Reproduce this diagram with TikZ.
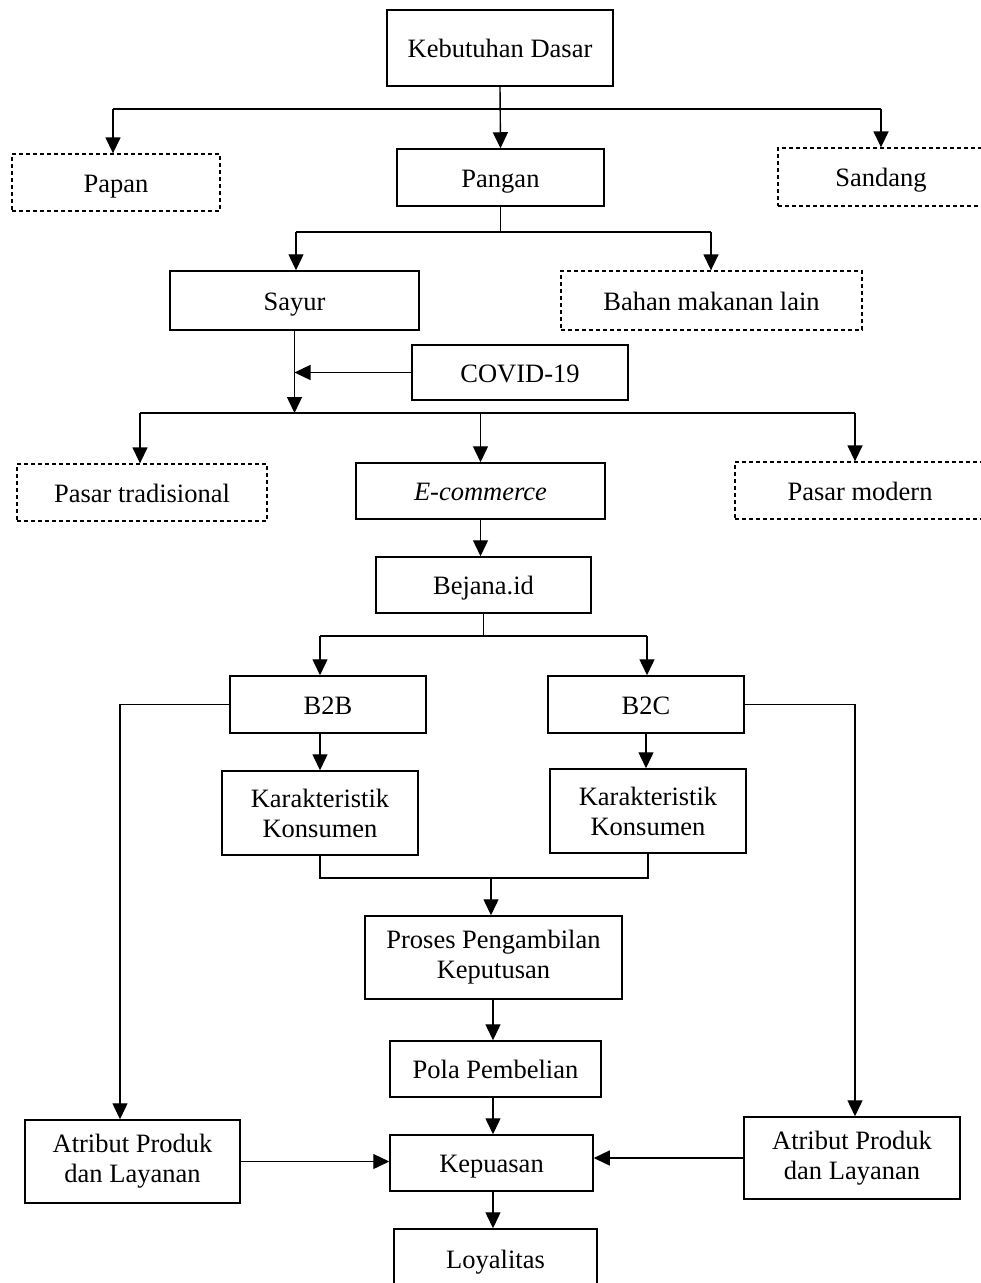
\documentclass[tikz,border=0pt]{standalone}
\usepackage{fontspec}
\setmainfont{Liberation Serif}
\usetikzlibrary{arrows.meta}
\begin{document}
\begin{tikzpicture}[x=1pt,y=-1pt,
  box/.style={draw, line width=1.5pt, inner sep=0pt, align=center,
    font=\fontsize{26.5}{30}\selectfont},
  one/.style={text height=25pt, text depth=6pt},
  dbox/.style={box, line width=1.3pt, dash pattern=on 4pt off 3pt},
  conn/.style={line width=1.4pt},
  arr/.style={conn, -{Triangle[length=16pt,width=15pt]}}]
\useasboundingbox (0,0) rectangle (981,1283);
\clip (0,0) rectangle (981,1283);
% nodes
\node[box, one, minimum width=226pt, minimum height=76pt] (keb) at (500,48) {Kebutuhan Dasar};
\node[dbox, one, minimum width=208pt, minimum height=57pt] (papan) at (116,182.5) {Papan};
\node[box, one, minimum width=207pt, minimum height=57pt] (pangan) at (500.5,177.5) {Pangan};
\node[dbox, one, minimum width=206pt, minimum height=58pt] (sandang) at (881,177) {Sandang};
\node[box, one, minimum width=249pt, minimum height=59pt] (sayur) at (294.5,300.5) {Sayur};
\node[dbox, one, minimum width=301pt, minimum height=59pt] (bahan) at (711.5,300.5) {Bahan makanan lain};
\node[box, one, minimum width=216pt, minimum height=55pt] (covid) at (520,372.5) {COVID-19};
\node[dbox, one, minimum width=250pt, minimum height=57pt] (ptrad) at (142,492.5) {Pasar tradisional};
\node[box, one, minimum width=249pt, minimum height=56pt] (ecom) at (480.5,491) {\itshape E-commerce};
\node[dbox, one, minimum width=250pt, minimum height=57pt] (pmod) at (860,490.5) {Pasar modern};
\node[box, one, minimum width=215pt, minimum height=56pt] (bejana) at (483.5,585) {Bejana.id};
\node[box, one, minimum width=196pt, minimum height=57pt] (b2b) at (328,704.5) {B2B};
\node[box, one, minimum width=196pt, minimum height=57pt] (b2c) at (646,704.5) {B2C};
\node[box, minimum width=196pt, minimum height=84pt] (kar1) at (320,813) {Karakteristik\\Konsumen};
\node[box, minimum width=196pt, minimum height=84pt] (kar2) at (648,811) {Karakteristik\\Konsumen};
\node[box, minimum width=257pt, minimum height=83pt] (proses) at (493.5,957.5) {Proses Pengambilan\\Keputusan};
\node[box, one, minimum width=211pt, minimum height=56pt] (pola) at (495.5,1069) {Pola Pembelian};
\node[box, one, minimum width=203pt, minimum height=56pt] (kep) at (491.5,1163) {Kepuasan};
\node[box, one, minimum width=203pt, minimum height=60pt] (loy) at (495.5,1259) {Loyalitas};
\node[box, minimum width=215pt, minimum height=83pt] (atr1) at (132.5,1161.5) {Atribut Produk\\dan Layanan};
\node[box, minimum width=216pt, minimum height=82pt] (atr2) at (852,1158) {Atribut Produk\\dan Layanan};
% coordinates
\coordinate (b1L) at (113,109);
\coordinate (b1R) at (881,109);
\coordinate (b2L) at (296,232);
\coordinate (b2R) at (711,232);
\coordinate (b3L) at (140,413);
\coordinate (b3R) at (855,413);
\coordinate (b4L) at (320,636);
\coordinate (b4R) at (647,636);
\coordinate (b5) at (491,878);
\coordinate (cL) at (120,0);
\coordinate (cR) at (855,0);
\coordinate (mx) at (493,0);
% connectors
\draw[conn] (b1L) -- (b1R);
\draw[arr] (keb.south) -- (pangan.north);
\draw[arr] (b1L) -- (b1L |- papan.north);
\draw[arr] (b1R) -- (b1R |- sandang.north);
\draw[conn] (pangan.south) -- (pangan.south |- b2L);
\draw[conn] (b2L) -- (b2R);
\draw[arr] (b2L) -- (b2L |- sayur.north);
\draw[arr] (b2R) -- (b2R |- bahan.north);
\draw[arr] (sayur.south) -- (sayur.south |- b3L);
\draw[arr] (covid.west) -- (covid.west -| sayur.south);
\draw[conn] (b3L) -- (b3R);
\draw[arr] (b3L) -- (b3L |- ptrad.north);
\draw[arr] (ecom.north |- b3L) -- (ecom.north);
\draw[arr] (b3R) -- (b3R |- pmod.north);
\draw[arr] (ecom.south) -- (ecom.south |- bejana.north);
\draw[conn] (bejana.south) -- (bejana.south |- b4L);
\draw[conn] (b4L) -- (b4R);
\draw[arr] (b4L) -- (b4L |- b2b.north);
\draw[arr] (b4R) -- (b4R |- b2c.north);
\draw[arr] (kar1.north |- b2b.south) -- (kar1.north);
\draw[arr] (b2c.south) -- (b2c.south |- kar2.north);
\draw[arr] (b2b.west) -| (cL |- atr1.north);
\draw[arr] (b2c.east) -| (cR |- atr2.north);
\draw[conn] (kar1.south) -- (kar1.south |- b5) -- (kar2.south |- b5) -- (kar2.south);
\draw[arr] (b5) -- (b5 |- proses.north);
\draw[arr] (mx |- proses.south) -- (mx |- pola.north);
\draw[arr] (mx |- pola.south) -- (mx |- kep.north);
\draw[arr] (mx |- kep.south) -- (mx |- loy.north);
\draw[arr] (atr1.east) -- (atr1.east -| kep.west);
\draw[arr] (atr2.west) -- (atr2.west -| kep.east);
\end{tikzpicture}
\end{document}
